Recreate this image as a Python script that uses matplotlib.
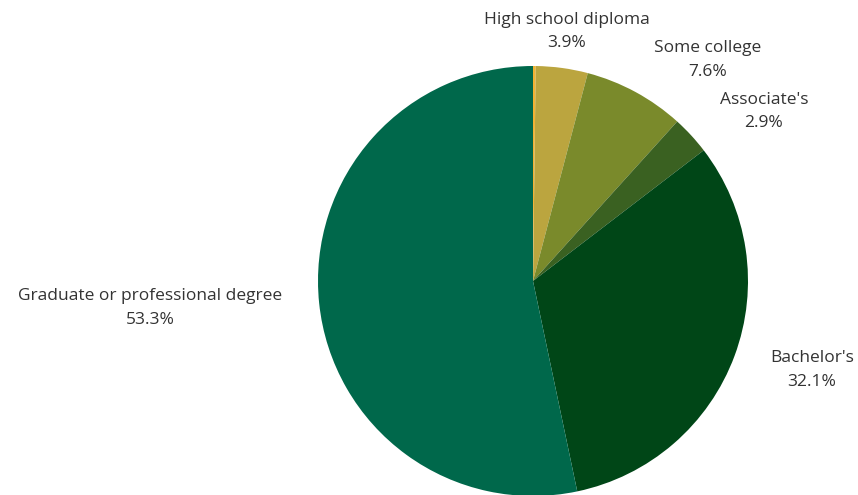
import matplotlib
matplotlib.use("Agg")
import matplotlib.pyplot as plt

# datos del gráfico (sentido horario desde las 12)
categories = ["Less than high school", "High school diploma", "Some college",
              "Associate's", "Bachelor's", "Graduate or professional degree"]
shares = [0.2, 3.9, 7.6, 2.9, 32.1, 53.3]
colors = ["#F2B233", "#BBA53F", "#7A8A2B", "#3A6121", "#004617", "#00684B"]
show_label = [False, True, True, True, True, True]

# posiciones de etiqueta (unidades de radio)
label_pos = [(0, 0), (0.158, 1.16), (0.814, 1.028), (1.074, 0.79),
             (1.298, -0.414), (-1.781, -0.126)]

plt.rcParams["font.family"] = ["Open Sans", "DejaVu Sans"]

fig = plt.figure(figsize=(8.58, 4.95), dpi=100)
ax = fig.add_axes([0, 0, 1, 1])

ax.pie(shares, colors=colors, startangle=90, counterclock=False,
       radius=1.0, wedgeprops={"linewidth": 0})

for cat, val, show, (x, y) in zip(categories, shares, show_label, label_pos):
    if not show:
        continue
    ax.text(x, y, f"{cat}\n{val:.1f}%", ha="center", va="center",
            fontsize=12.5, color="#333333", linespacing=1.6)

ax.set_xlim(-533 / 215, (858 - 533) / 215)
ax.set_ylim((281 - 495) / 215, 281 / 215)
ax.set_aspect("auto")
ax.axis("off")

fig.savefig("out.png", dpi=100, facecolor="white")
